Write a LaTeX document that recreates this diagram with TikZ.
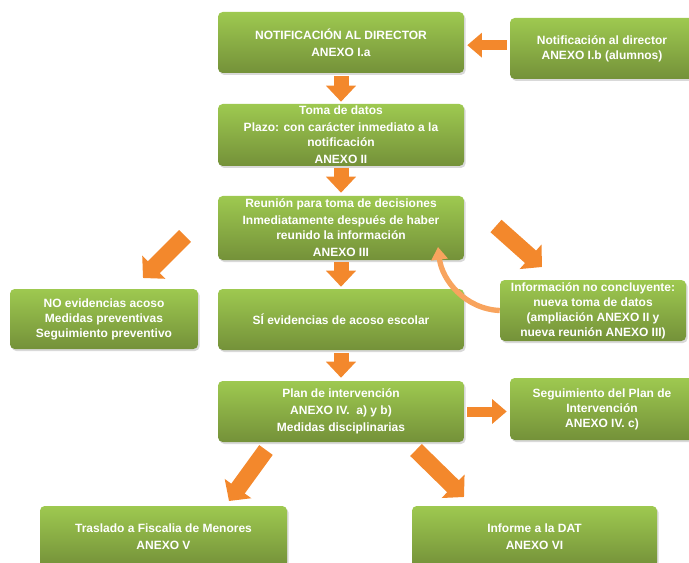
\documentclass[tikz,border=0pt]{standalone}
\usepackage{fontspec}
\setmainfont{Liberation Sans}
\usetikzlibrary{arrows.meta}
\usetikzlibrary{shadows}
\usetikzlibrary{calc}
\definecolor{gtop}{RGB}{158,201,80}
\definecolor{gbot}{RGB}{116,145,57}
\definecolor{morange}{RGB}{243,136,44}
\definecolor{lorange}{RGB}{248,164,94}
\tikzset{flowbox/.style = {rounded corners=3.5pt, top color=gtop, bottom color=gbot,
                           text=white, align=center, inner sep=0pt,
                           font=\bfseries\fontsize{9}{11.25}\selectfont,
                           drop shadow={opacity=0.3, shadow xshift=1.2pt, shadow yshift=-1.5pt}}}
\tikzset{bigarrow/.style = {draw=morange, line width=11.25pt,
                            -{Triangle[width=21.75pt, length=12pt]}}}
\tikzset{slantarrow/.style = {draw=morange, line width=12.5pt,
                              -{Triangle[width=24pt, length=11.5pt]}}}
\tikzset{smallarrow/.style = {draw=morange, line width=7.5pt,
                              -{Triangle[width=18pt, length=11pt]}}}
\tikzset{backarrow/.style = {draw=lorange, line width=4pt,
                             -{Triangle[width=12pt, length=9.5pt]}}}

\begin{document}
\begin{tikzpicture}[x=0.75pt, y=-0.75pt]
    \useasboundingbox (0, 0) rectangle (689, 563);

    \node [flowbox, minimum width=184.5pt, minimum height=45.75pt] (notif) at (341, 42.5)
        {NOTIFICACIÓN AL DIRECTOR\\[1.5pt] ANEXO I.a};
    \node [flowbox, minimum width=138pt, minimum height=45.75pt] (notifb) at (602, 48.5)
        {Notificación al director\\ ANEXO I.b (alumnos)};
    \node [flowbox, minimum width=184.5pt, minimum height=46.5pt] (toma) at (341, 135)
        {Toma de datos\\[1.5pt] Plazo: con carácter inmediato a la\\ notificación\\[1.5pt] ANEXO II};
    \node [flowbox, minimum width=184.5pt, minimum height=48pt] (reunion) at (341, 228)
        {Reunión para toma de decisiones\\[1.5pt] Inmediatamente después de haber\\ reunido la información\\[1.5pt] ANEXO III};
    \node [flowbox, minimum width=184.5pt, minimum height=45.75pt] (si) at (341, 319.5)
        {SÍ evidencias de acoso escolar};
    \node [flowbox, minimum width=141pt, minimum height=45pt] (no) at (104, 319)
        {NO evidencias acoso\\ Medidas preventivas\\ Seguimiento preventivo};
    \node [flowbox, minimum width=139.5pt, minimum height=45.75pt] (info) at (593, 310.5)
        {Información no concluyente:\\ nueva toma de datos\\ (ampliación ANEXO II y\\ nueva reunión ANEXO III)};
    \node [flowbox, minimum width=184.5pt, minimum height=45.75pt] (plan) at (341, 411.5)
        {Plan de intervención\\[1.5pt] ANEXO IV.\ \ a) y b)\\[1.5pt] Medidas disciplinarias};
    \node [flowbox, minimum width=138pt, minimum height=46.5pt] (seg) at (602, 409)
        {Seguimiento del Plan de\\ Intervención\\ ANEXO IV. c)};
    \node [flowbox, minimum width=185.25pt, minimum height=45.75pt] (tras) at (163.5, 536.5)
        {Traslado a Fiscalia de Menores\\[1.5pt] ANEXO V};
    \node [flowbox, minimum width=183.75pt, minimum height=45.75pt] (inf) at (534.5, 536.5)
        {Informe a la DAT\\[1.5pt] ANEXO VI};

    % free ends of the slanted arrows
    \coordinate (noTail) at (185, 236);
    \coordinate (noTip) at (143, 278);
    \coordinate (infoTail) at (496, 226);
    \coordinate (infoTip) at (542, 267);
    \coordinate (trasTail) at (266, 450);
    \coordinate (trasTip) at (229, 501);
    \coordinate (infTail) at (416, 450);
    \coordinate (infTip) at (464, 497);
    \coordinate (loopTip) at (438, 247);

    \draw [bigarrow, shorten <=2pt, shorten >=1.5pt] (notif.south) -- (toma.north);
    \draw [bigarrow, shorten <=1pt, shorten >=2.25pt] (toma.south) -- (reunion.north);
    \draw [bigarrow, shorten <=1.5pt, shorten >=1.5pt] (reunion.south) -- (si.north);
    \draw [bigarrow, shorten <=2pt, shorten >=2.25pt] (si.south) -- (plan.north);

    \draw [smallarrow, shorten <=2.25pt, shorten >=2.25pt] ([yshift=-2pt]notifb.west |- notif.east) -- ([yshift=-2pt]notif.east);
    \draw [smallarrow, shorten <=2.25pt, shorten >=2.25pt] (plan.east) -- (plan.east -| seg.west);

    \draw [slantarrow] (noTail) -- (noTip);
    \draw [slantarrow] (infoTail) -- (infoTip);
    \draw [slantarrow] (trasTail) -- (trasTip);
    \draw [slantarrow] (infTail) -- (infTip);

    \draw [backarrow] (info.west) .. controls (465, 309) and (442, 280) .. (loopTip);
\end{tikzpicture}
\end{document}
